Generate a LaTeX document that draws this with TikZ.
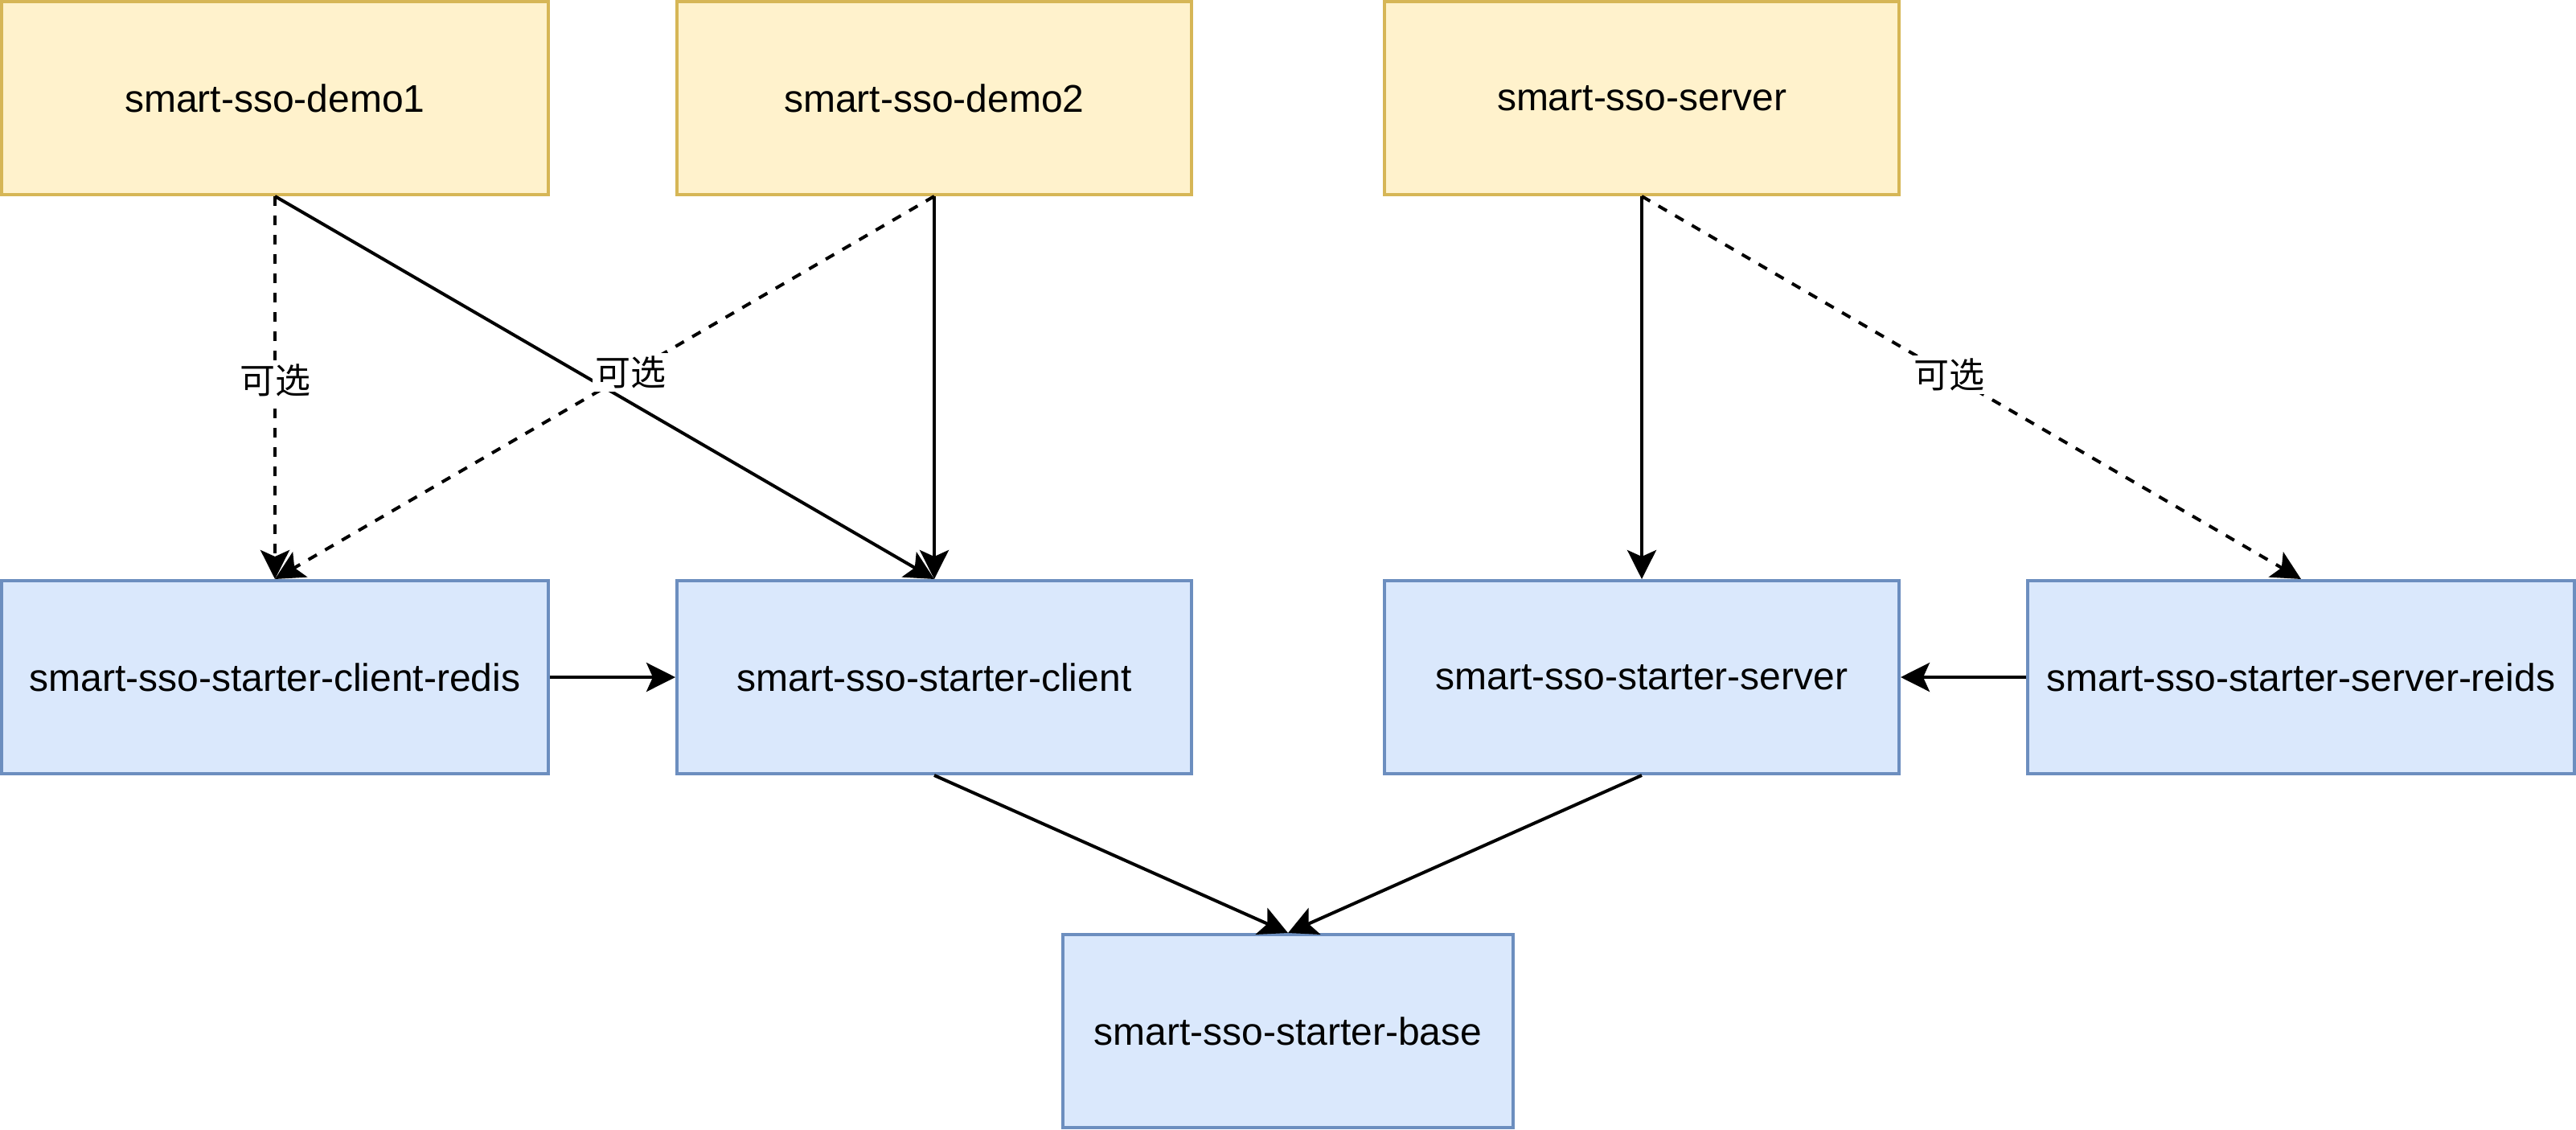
\documentclass[tikz,border=0pt]{standalone}
\usepackage{fontspec}
\setmainfont{Liberation Sans}
\newfontfamily\cjk{Noto Sans CJK SC}
\usepackage{xcolor}
\usetikzlibrary{arrows.meta}
\definecolor{appfill}{HTML}{FFF2CC}
\definecolor{appline}{HTML}{D6B656}
\definecolor{libfill}{HTML}{DAE8FC}
\definecolor{libline}{HTML}{6C8EBF}

\begin{document}
\begin{tikzpicture}[x=1pt,y=-1pt,
  box/.style={draw,line width=1pt,minimum height=60pt,inner sep=0pt,
    font=\fontsize{12}{14}\selectfont},
  app/.style={box,fill=appfill,draw=appline},
  lib/.style={box,fill=libfill,draw=libline},
  dep/.style={-{Stealth[length=9pt,width=9pt,inset=2pt]},line width=1pt},
  opt/.style={dep,dash pattern=on 3pt off 3pt},
  optlabel/.style={fill=white,inner sep=1pt,font=\cjk\fontsize{11}{13}\selectfont}]
  \useasboundingbox (-0.5,-0.5) rectangle (800.5,350.5);

  % Applications
  \node[app,minimum width=170pt] (demo1) at (85,30) {smart-sso-demo1};
  \node[app,minimum width=160pt] (demo2) at (290,30) {smart-sso-demo2};
  \node[app,minimum width=160pt] (server) at (510,30) {smart-sso-server};

  % Starters
  \node[lib,minimum width=170pt] (clientredis) at (85,210) {smart-sso-starter-client-redis};
  \node[lib,minimum width=160pt] (client) at (290,210) {smart-sso-starter-client};
  \node[lib,minimum width=160pt] (sserver) at (510,210) {smart-sso-starter-server};
  \node[lib,minimum width=170pt] (serverreids) at (715,210) {smart-sso-starter-server-reids};
  \node[lib,minimum width=140pt] (base) at (400,320) {smart-sso-starter-base};

  % Dependencies
  \draw[dep] (demo1.south) -- (client.north);
  \draw[dep] (demo2.south) -- (client.north);
  \draw[dep] (server.south) -- (sserver.north);
  \draw[dep] (clientredis.east) -- (client.west);
  \draw[dep] (serverreids.west) -- (sserver.east);
  \draw[dep] (client.south) -- (base.north);
  \draw[dep] (sserver.south) -- (base.north);

  % Optional dependencies
  \draw[opt] (demo1.south) -- node[optlabel,pos=0.48] (lbl1) {可选} (clientredis.north);
  \draw[opt] (demo2.south) -- node[optlabel,pos=0.46] (lbl2) {可选} (clientredis.north);
  \draw[opt] (server.south) -- node[optlabel,pos=0.466] (lbl3) {可选} (serverreids.north);
\end{tikzpicture}
\end{document}
